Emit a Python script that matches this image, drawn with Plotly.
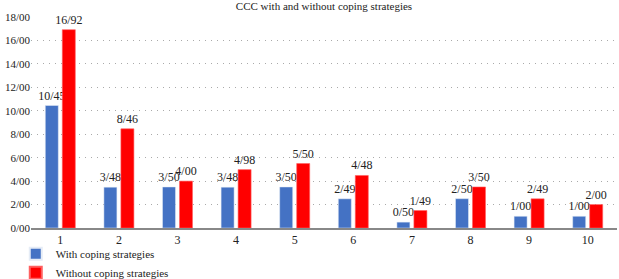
import plotly.graph_objects as go

categories = ["1", "2", "3", "4", "5", "6", "7", "8", "9", "10"]
with_coping = [10.45, 3.48, 3.50, 3.48, 3.50, 2.49, 0.50, 2.50, 1.00, 1.00]
without_coping = [16.92, 8.46, 4.00, 4.98, 5.50, 4.48, 1.49, 3.50, 2.49, 2.00]
tick_vals = [0, 2, 4, 6, 8, 10, 12, 14, 16, 18]
tick_text = ["0/00", "2/00", "4/00", "6/00", "8/00", "10/00", "12/00", "14/00", "16/00", "18/00"]


def fmt(v):
    return f"{v:.2f}".replace(".", "/")


FONT = "Liberation Serif"

fig = go.Figure()
fig.add_trace(go.Bar(
    x=categories, y=with_coping, name="With coping strategies",
    marker=dict(color="#4472C4"),
    text=[fmt(v) for v in with_coping], textposition="outside",
    textfont=dict(family=FONT, size=12, color="#222"), cliponaxis=False,
))
fig.add_trace(go.Bar(
    x=categories, y=without_coping, name="Without coping strategies",
    marker=dict(color="#FF0000", line=dict(color="#FF6060", width=0.6)),
    text=[fmt(v) for v in without_coping], textposition="outside",
    textfont=dict(family=FONT, size=12, color="#222"), cliponaxis=False,
))

fig.update_layout(
    width=619, height=279,
    margin=dict(l=31, r=2, t=17, b=51, autoexpand=False),
    paper_bgcolor="white", plot_bgcolor="white",
    font=dict(family=FONT, size=11, color="#222"),
    title=dict(text="CCC with and without coping strategies", x=0.5, xanchor="center",
               xref="paper", y=0.99, yanchor="top", yref="container",
               font=dict(family=FONT, size=11, color="#222")),
    barmode="group", bargap=0.42, bargroupgap=0.235,
    showlegend=True,
    legend=dict(orientation="v", x=-0.026, xanchor="left",
                y=-0.053, yanchor="top",
                font=dict(family=FONT, size=11, color="#222"),
                itemsizing="constant", tracegroupgap=0, bgcolor="rgba(0,0,0,0)"),
    uniformtext=dict(minsize=12, mode="show"),
)
fig.update_xaxes(
    type="category", showgrid=False, showline=True, linecolor="#888", linewidth=1.5,
    ticks="", tickfont=dict(family=FONT, size=12, color="#222"),
)
fig.update_yaxes(
    range=[0, 18], tickvals=tick_vals, ticktext=tick_text,
    showgrid=True, gridcolor="#aaaaaa", griddash="1px,5px", gridwidth=1,
    zeroline=False, showline=False, ticks="",
    tickfont=dict(family=FONT, size=11, color="#222"),
)
fig.write_html("out.html")
